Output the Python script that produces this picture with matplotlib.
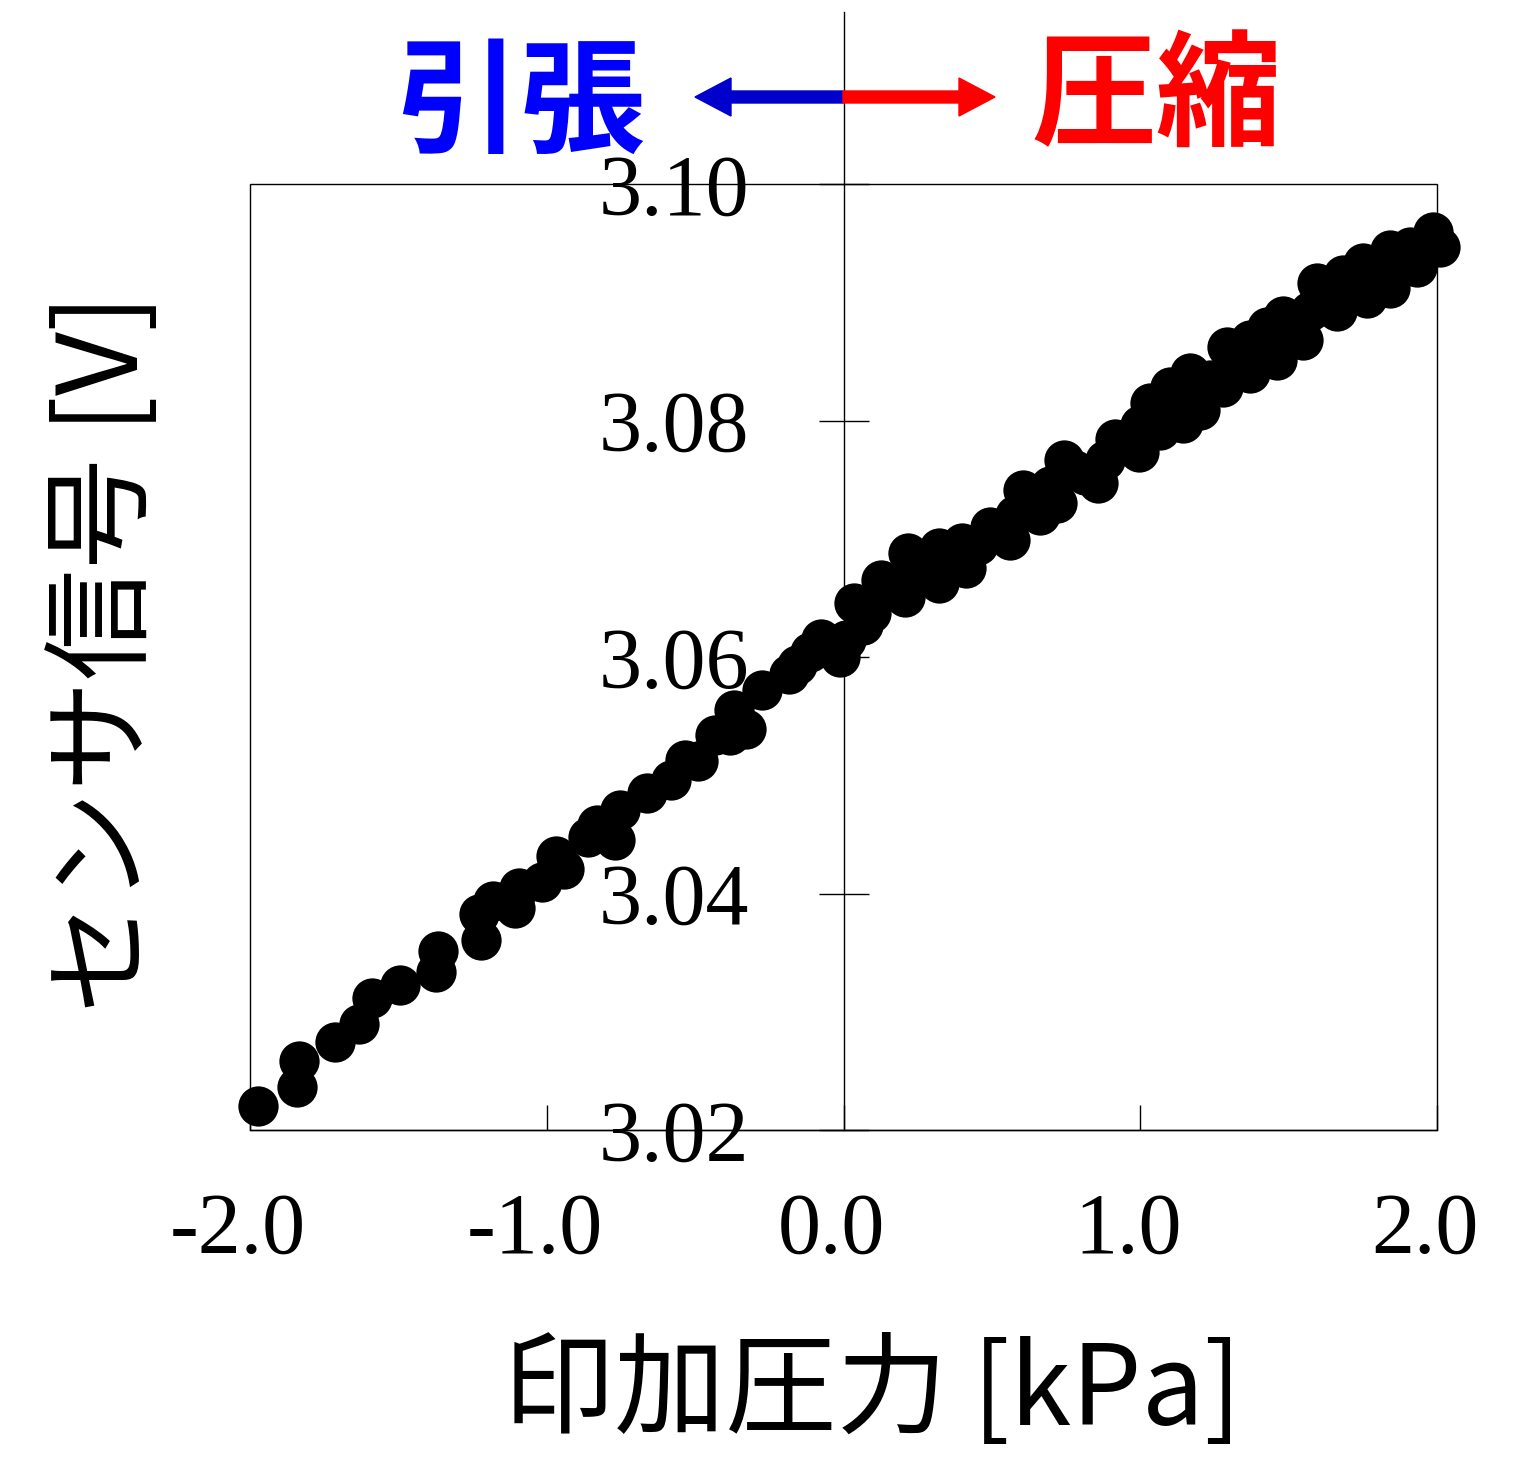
import matplotlib
matplotlib.use("Agg")
import matplotlib.pyplot as plt
import matplotlib.transforms as mtransforms
from matplotlib.patches import Rectangle, FancyArrow
from matplotlib.lines import Line2D

# ---- data ----
pressure_kpa = [
    # tension side
    -1.973, -1.842, -1.835, -1.714, -1.633, -1.589, -1.495, -1.373, -1.366, -1.222,
    -1.228, -1.181, -1.107, -1.094, -1.016, -0.969, -0.942, -0.861, -0.830, -0.770,
    -0.753, -0.662, -0.581, -0.534, -0.490, -0.433, -0.382, -0.329, -0.369, -0.275,
    -0.184, -0.157, -0.113, -0.076, -0.019,
    # compression side
    0.009, 0.035, -0.012, 0.093, 0.127, 0.207, 0.217, 0.322, 0.322, 0.399,
    0.413, 0.494, 0.561, 0.605, 0.662, 0.720, 0.743, 0.814, 0.858, 0.915,
    0.996, 1.033, 1.100, 1.067, 1.144, 1.168, 1.202, 1.279, 1.293, 1.370,
    1.370, 1.427, 1.461, 1.481, 1.549, 1.596, 1.663, 1.683, 1.751, 1.764,
    1.842, 1.842, 1.909, 1.933, 1.987, 2.010,
    0.066, 0.167, 0.265, 0.366, 0.453, 0.528, 0.578, 0.639, 0.696, 0.780,
    0.881, 0.949, 0.999, 1.117, 1.235, 1.330, 1.410, 1.512, 1.572, 1.630,
    1.714, 1.801, 1.876, 1.960,
]
sensor_v = [
    3.0220, 3.0236, 3.0258, 3.0274, 3.0290, 3.0312, 3.0323, 3.0334, 3.0351, 3.0361,
    3.0383, 3.0394, 3.0388, 3.0405, 3.0410, 3.0432, 3.0421, 3.0448, 3.0458, 3.0445,
    3.0471, 3.0485, 3.0496, 3.0513, 3.0512, 3.0534, 3.0534, 3.0539, 3.0555, 3.0572,
    3.0586, 3.0593, 3.0604, 3.0615, 3.0604,
    3.0614, 3.0646, 3.0600, 3.0637, 3.0665, 3.0651, 3.0688, 3.0692, 3.0663, 3.0696,
    3.0675, 3.0710, 3.0699, 3.0741, 3.0720, 3.0730, 3.0767, 3.0754, 3.0747, 3.0784,
    3.0773, 3.0815, 3.0828, 3.0792, 3.0798, 3.0840, 3.0809, 3.0828, 3.0862, 3.0868,
    3.0840, 3.0879, 3.0851, 3.0888, 3.0868, 3.0916, 3.0893, 3.0923, 3.0933, 3.0904,
    3.0944, 3.0912, 3.0947, 3.0930, 3.0959, 3.0947,
    3.0627, 3.0661, 3.0674, 3.0682, 3.0695, 3.0707, 3.0720, 3.0733, 3.0745, 3.0758,
    3.0767, 3.0779, 3.0796, 3.0813, 3.0834, 3.0851, 3.0864, 3.0881, 3.0893, 3.0906,
    3.0915, 3.0927, 3.0934, 3.0948,
]
x_ticks = [-2.0, -1.0, 0.0, 1.0, 2.0]
x_tick_labels = ["-2.0", "-1.0", "0.0", "1.0", "2.0"]
y_ticks = [3.02, 3.04, 3.06, 3.08, 3.10]
y_tick_labels = ["3.02", "3.04", "3.06", "3.08", "3.10"]

W, H = 1513, 1480
fig = plt.figure(figsize=(W / 100, H / 100), dpi=100)
ax = fig.add_axes([250 / W, 1 - 1130 / H, (1437 - 250) / W, (1130 - 184) / H])

ax.plot(pressure_kpa, sensor_v, "o", color="black", markersize=29,
        markeredgewidth=0, clip_on=False, zorder=5)

ax.set_xlim(-2.0, 2.0)
ax.set_ylim(3.02, 3.10)

# y-axis at x = 0, plus a full frame
ax.spines["left"].set_position(("data", 0))
ax.spines["right"].set_visible(False)
ax.spines["top"].set_visible(False)
for s in ax.spines.values():
    s.set_linewidth(1.0)
ax.add_patch(Rectangle((0, 0), 1, 1, transform=ax.transAxes, fill=False,
                       edgecolor="black", linewidth=1.0, clip_on=False, zorder=6))

tick_font = {"family": "Liberation Serif", "size": 62}
ax.set_xticks(x_ticks)
ax.set_xticklabels(x_tick_labels, fontdict=tick_font)
ax.set_yticks(y_ticks)
ax.set_yticklabels(y_tick_labels, fontdict=tick_font)
ax.tick_params(axis="x", direction="in", length=18, width=1.0, pad=45,
               top=False)
ax.tick_params(axis="y", direction="inout", length=36, width=1.0, pad=50,
               right=False)
shift = mtransforms.ScaledTranslation(-12 / 100, 0, fig.dpi_scale_trans)
for lbl in ax.get_xticklabels():
    lbl.set_transform(lbl.get_transform() + shift)

# vertical line above the axes at x = 0
trans = mtransforms.blended_transform_factory(ax.transData, ax.transAxes)
ax.add_line(Line2D([0, 0], [1, 1 + (184 - 12) / (1130 - 184)], transform=trans,
                   color="black", linewidth=1.0, clip_on=False))

# axis labels
cjk = ["Noto Sans CJK JP", "DejaVu Sans"]
fig.text(106 / W, 1 - 653 / H, "センサ信号 [V]", family=cjk, fontsize=80,
         rotation=90, ha="center", va="center")
fig.text(872 / W, 1 - 1393 / H, "印加圧力 [kPa]", family=cjk, fontsize=80,
         ha="center", va="center")

# top annotations
fig.text(520 / W, 1 - 106 / H, "引張", family=cjk, fontsize=90, fontweight="bold",
         color="#0000FF", ha="center", va="center")
fig.text(1157 / W, 1 - 100 / H, "圧縮", family=cjk, fontsize=90, fontweight="bold",
         color="#FF0000", ha="center", va="center")

ident = mtransforms.IdentityTransform()
ay = H - 97
fig.patches.append(FancyArrow(843, ay, 695 - 843, 0, width=12, head_width=38,
                              head_length=36, length_includes_head=True,
                              color="#0000CC", transform=ident, figure=fig))
fig.patches.append(FancyArrow(843, ay, 995 - 843, 0, width=12, head_width=38,
                              head_length=36, length_includes_head=True,
                              color="#FF0000", transform=ident, figure=fig))

fig.savefig("out.png", dpi=100)
